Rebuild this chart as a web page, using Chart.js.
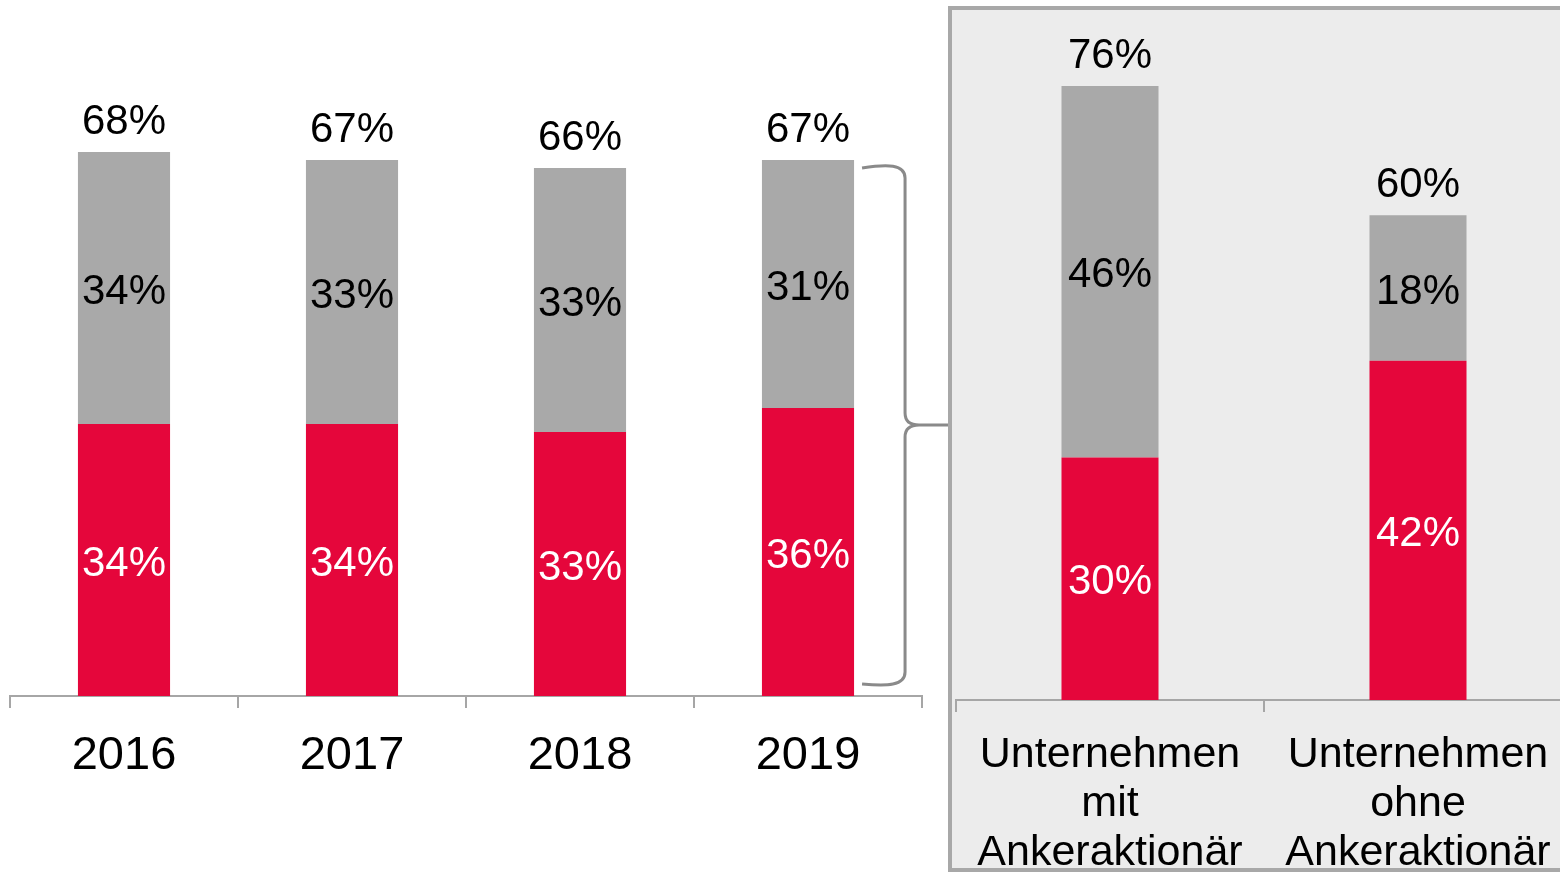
<!DOCTYPE html>
<html>
<head>
<meta charset="utf-8">
<script src="https://cdn.jsdelivr.net/npm/chart.js@4/dist/chart.umd.min.js"></script>
<style>
  html, body { margin: 0; padding: 0; background: #fff; overflow: hidden; width: 1560px; height: 873px; }
  #leftChart { position: absolute; left: 0; top: 0; }
  #panel { position: absolute; left: 948px; top: 6px; width: 640px; height: 866px; box-sizing: border-box;
           border: 4px solid #a8a8a8; background: #ececec; }
  #rightChart { position: absolute; left: 952px; top: 10px; }
</style>
</head>
<body>
<canvas id="leftChart" width="948" height="873"></canvas>
<div id="panel"></div>
<canvas id="rightChart" width="620" height="859"></canvas>
<script>
let years = ['2016', '2017', '2018', '2019'];
let redYears = [34, 34, 33, 36];
let greyYears = [34, 33, 33, 31];

let groups = [['Unternehmen', 'mit', 'Ankeraktionär'], ['Unternehmen', 'ohne', 'Ankeraktionär']];
let redGroups = [30, 42];
let greyGroups = [46, 18];

let red = '#e5063b';
let grey = '#a9a9a9';
let axisGrey = '#a6a6a6';
let font = "'Liberation Sans', Arial, sans-serif";

// draws the value inside each segment and the total above each stack
let valueLabels = {
    id: 'valueLabels',
    afterDatasetsDraw(chart) {
        let ctx = chart.ctx;
        ctx.save();
        ctx.font = '42px ' + font;
        ctx.textAlign = 'center';
        ctx.textBaseline = 'middle';
        let n = chart.data.labels.length;
        for (let i = 0; i < n; i++) {
            let total = 0;
            let topY = null;
            chart.data.datasets.forEach((ds, d) => {
                let el = chart.getDatasetMeta(d).data[i];
                total += ds.data[i];
                ctx.fillStyle = ds.labelColor;
                ctx.fillText(ds.data[i] + '%', el.x, (el.y + el.base) / 2 + 4);
                topY = el.y;
            });
            let x = chart.getDatasetMeta(0).data[i].x;
            ctx.fillStyle = '#000';
            ctx.fillText(total + '%', x, topY - 30);
        }
        ctx.restore();
    }
};

// curly bracket next to the last year's bar
let bracket = {
    id: 'bracket',
    afterDraw(chart) {
        let ctx = chart.ctx;
        let last = years.length - 1;
        let el = chart.getDatasetMeta(1).data[last];
        let y = chart.scales.y;
        let top = y.getPixelForValue(redYears[last] + greyYears[last]) + 6;
        let bottom = y.getPixelForValue(0) - 12;
        let mid = (top + bottom) / 2;
        let x0 = el.x + el.width / 2 + 8;
        let xv = x0 + 43;
        ctx.save();
        ctx.strokeStyle = '#8a8a8a';
        ctx.lineWidth = 3;
        ctx.beginPath();
        ctx.moveTo(x0, top + 2);
        ctx.bezierCurveTo(x0 + 25, top - 2, xv, top - 2, xv, top + 12);
        ctx.lineTo(xv, mid - 12);
        ctx.quadraticCurveTo(xv, mid, xv + 14, mid);
        ctx.lineTo(chart.width, mid);
        ctx.moveTo(xv + 14, mid);
        ctx.quadraticCurveTo(xv, mid, xv, mid + 12);
        ctx.lineTo(xv, bottom - 12);
        ctx.bezierCurveTo(xv, bottom + 2, x0 + 25, bottom + 2, x0, bottom);
        ctx.stroke();
        ctx.restore();
    }
};

function makeChart(id, labels, redData, greyData, opts) {
    let ctx = document.getElementById(id).getContext('2d');
    return new Chart(ctx, {
        type: 'bar',
        data: {
            labels: labels,
            datasets: [
                { data: redData, backgroundColor: red, labelColor: '#fff',
                  categoryPercentage: 1, barPercentage: opts.barPct },
                { data: greyData, backgroundColor: grey, labelColor: '#000',
                  categoryPercentage: 1, barPercentage: opts.barPct }
            ]
        },
        options: {
            responsive: false,
            animation: false,
            layout: { padding: opts.padding },
            plugins: { legend: { display: false }, tooltip: { enabled: false } },
            scales: {
                x: {
                    stacked: true,
                    grid: { offset: true, drawOnChartArea: false, drawTicks: true, tickLength: 12, color: axisGrey, lineWidth: 2 },
                    border: { display: true, color: axisGrey, width: 2 },
                    ticks: { color: '#000', padding: opts.tickPad, maxRotation: 0, autoSkip: false,
                             font: { family: font, size: opts.tickSize, lineHeight: opts.lineHeight } },
                    afterFit: s => { s.height = opts.axisHeight; }
                },
                y: { stacked: true, display: false, min: 0, max: opts.yMax }
            }
        },
        plugins: opts.plugins
    });
}

makeChart('leftChart', years, redYears, greyYears, {
    barPct: 0.404, padding: { left: 10, right: 26, top: 0, bottom: 0 },
    tickPad: 20, tickSize: 47, lineHeight: 1.2, axisHeight: 177, yMax: 87,
    plugins: [valueLabels, bracket]
});

makeChart('rightChart', groups, redGroups, greyGroups, {
    barPct: 0.315, padding: { left: 4, right: 0, top: 0, bottom: 0 },
    tickPad: 19, tickSize: 43, lineHeight: 1.14, axisHeight: 169, yMax: 85.4,
    plugins: [valueLabels]
});
</script>
</body>
</html>
